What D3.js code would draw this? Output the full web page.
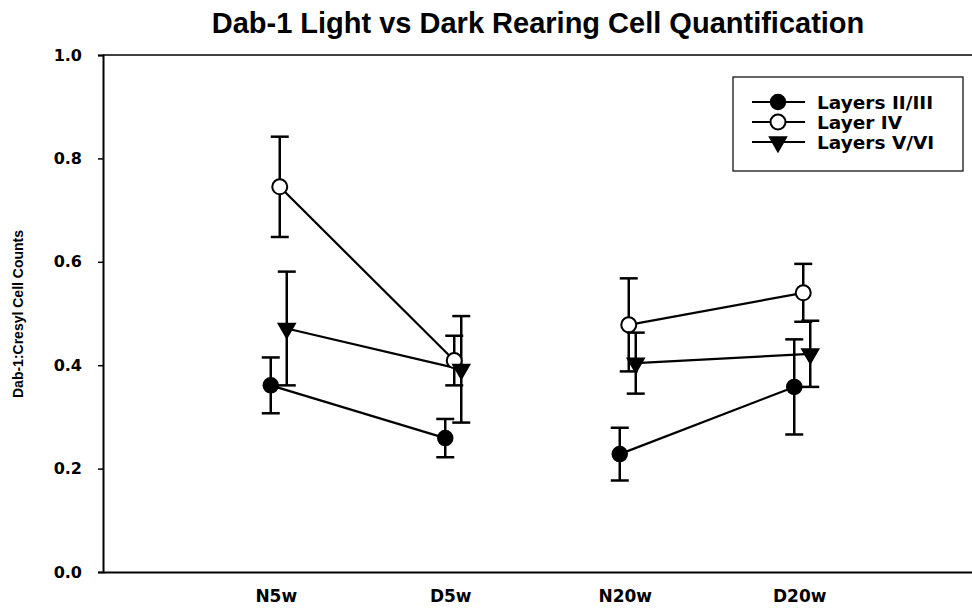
<!DOCTYPE html>
<html><head><meta charset="utf-8">
<script src="https://cdn.jsdelivr.net/npm/d3@7"></script>
<style>
html,body{margin:0;padding:0;background:#fff;}
svg{display:block;font-family:"Liberation Sans",Arial,sans-serif;}
</style></head>
<body><svg id="c" width="972" height="611"></svg>
<script>
const categories = ["N5w","D5w","N20w","D20w"];
const seriesNames = ["Layers II/III","Layer IV","Layers V/VI"];
const layers23 = [0.361, 0.259, 0.228, 0.358];
const layers23Err = [0.054, 0.037, 0.051, 0.092];
const layer4 = [0.745, 0.409, 0.478, 0.540];
const layer4Err = [0.097, 0.048, 0.090, 0.056];
const layers56 = [0.471, 0.392, 0.404, 0.422];
const layers56Err = [0.110, 0.103, 0.059, 0.064];
const segments = [[0,1],[2,3]];
const yTicks = [0.0,0.2,0.4,0.6,0.8,1.0];

(function(){
const svg = d3.select("#c");
const pL = 103, pR = 972, pT = 55, pB = 572;
const wide = "'DejaVu Sans',Verdana,sans-serif";
const x = d3.scalePoint().domain(categories).range([pL, pR]).padding(0.99);
const y = d3.scaleLinear().domain([0,1]).range([pB, pT]);

const series = [
  {name: seriesNames[0], vals: layers23, err: layers23Err, off: -5, type: "filled"},
  {name: seriesNames[1], vals: layer4, err: layer4Err, off: 4, type: "open"},
  {name: seriesNames[2], vals: layers56, err: layers56Err, off: 11, type: "tri"}
];

svg.append("text").attr("x", 538).attr("y", 33).attr("text-anchor","middle")
  .attr("font-size", 29).attr("font-weight","bold").text("Dab-1 Light vs Dark Rearing Cell Quantification");

const yAxis = d3.axisLeft(y).tickValues(yTicks).tickFormat(d3.format(".1f")).tickSize(5).tickPadding(16);
const gy = svg.append("g").attr("transform",`translate(${pL},0)`).call(yAxis);
gy.select(".domain").attr("stroke","#000").attr("stroke-width",2);
gy.selectAll(".tick line").attr("stroke","#000").attr("stroke-width",1.5);
gy.selectAll(".tick text").attr("font-size",16).attr("font-weight","bold").attr("fill","#000")
  .attr("font-family",wide);

const xAxis = d3.axisBottom(x).tickSize(0).tickPadding(18);
const gx = svg.append("g").attr("transform",`translate(0,${pB})`).call(xAxis);
gx.select(".domain").attr("stroke","#000").attr("stroke-width",2);
gx.selectAll(".tick text").attr("font-size",17).attr("font-weight","bold").attr("fill","#000")
  .attr("font-family",wide);

svg.append("line").attr("x1",pL).attr("x2",pR).attr("y1",y(1)).attr("y2",y(1))
  .attr("stroke","#000").attr("stroke-width",1.5);

svg.append("text").attr("transform",`translate(23,314) rotate(-90)`).attr("text-anchor","middle")
  .attr("font-size",14).attr("font-weight","bold").text("Dab-1:Cresyl Cell Counts");

const g = svg.append("g");
const cap = 9;
const symTri = d3.symbol().type(d3.symbolTriangle).size(125);

function drawMarker(sel, type, cx, cy){
  if(type==="filled"){
    sel.append("circle").attr("cx",cx).attr("cy",cy).attr("r",7.5).attr("fill","#000").attr("stroke","#000").attr("stroke-width",1.5);
  } else if(type==="open"){
    sel.append("circle").attr("cx",cx).attr("cy",cy).attr("r",7.5).attr("fill","#fff").attr("stroke","#000").attr("stroke-width",2);
  } else {
    sel.append("path").attr("d",symTri).attr("transform",`translate(${cx},${cy}) rotate(180)`).attr("fill","#000").attr("stroke","#000").attr("stroke-width",1.5);
  }
}

series.forEach(s=>{
  segments.forEach(([a,b])=>{
    g.append("line")
      .attr("x1", x(categories[a])+s.off).attr("y1", y(s.vals[a]))
      .attr("x2", x(categories[b])+s.off).attr("y2", y(s.vals[b]))
      .attr("stroke","#000").attr("stroke-width",2.2);
  });
});
series.forEach(s=>{
  categories.forEach((c,i)=>{
    const cx = x(c)+s.off, hi = y(s.vals[i]+s.err[i]), lo = y(s.vals[i]-s.err[i]);
    g.append("line").attr("x1",cx).attr("x2",cx).attr("y1",hi).attr("y2",lo).attr("stroke","#000").attr("stroke-width",2.5);
    [hi,lo].forEach(yy=>g.append("line").attr("x1",cx-cap).attr("x2",cx+cap).attr("y1",yy).attr("y2",yy).attr("stroke","#000").attr("stroke-width",2.5));
  });
});
series.forEach(s=>{
  categories.forEach((c,i)=>drawMarker(g, s.type, x(c)+s.off, y(s.vals[i])));
});

const lg = svg.append("g");
lg.append("rect").attr("x",733).attr("y",77).attr("width",230).attr("height",94)
  .attr("fill","#fff").attr("stroke","#000").attr("stroke-width",1.2);
series.forEach((s,i)=>{
  const yy = 102 + i*20;
  lg.append("line").attr("x1",752).attr("x2",805).attr("y1",yy).attr("y2",yy).attr("stroke","#000").attr("stroke-width",2.2);
  drawMarker(lg, s.type, 778, yy);
  lg.append("text").attr("x",817).attr("y",yy+7).attr("font-size",18.5).attr("font-weight","bold")
    .attr("font-family",wide).text(s.name);
});
})();
</script></body></html>
